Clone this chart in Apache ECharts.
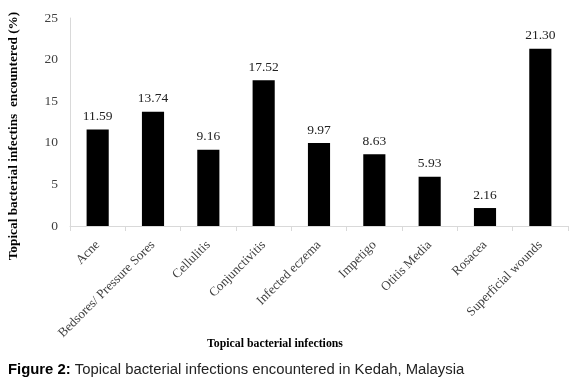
<!DOCTYPE html>
<html>
<head>
<meta charset="utf-8">
<script src="https://cdn.jsdelivr.net/npm/echarts@6/dist/echarts.min.js"></script>
<style>
html,body{margin:0;padding:0;background:#fff;}
#chart{width:583px;height:386px;}
</style>
</head>
<body>
<div id="chart"></div>
<script>
const categories = ['Acne', 'Bedsores/ Pressure Sores', 'Cellulitis', 'Conjunctivitis', 'Infected eczema', 'Impetigo', 'Otitis Media', 'Rosacea', 'Superficial wounds'];
const values = [11.59, 13.74, 9.16, 17.52, 9.97, 8.63, 5.93, 2.16, 21.30];
const yTicks = [0, 5, 10, 15, 20, 25];
const yTitle = 'Topical bacterial infectins  encountered (%)';
const xTitle = 'Topical bacterial infections';
const captionBold = 'Figure 2:';
const captionText = ' Topical bacterial infections encountered in Kedah, Malaysia';

const serif = '"Liberation Serif", "Times New Roman", serif';
const sans = '"Liberation Sans", Arial, sans-serif';

const chart = echarts.init(document.getElementById('chart'), null, {renderer: 'canvas'});
chart.setOption({
  animation: false,
  backgroundColor: '#fff',
  grid: {left: 70, right: 15, top: 18, bottom: 160, containLabel: false},
  xAxis: {
    type: 'category',
    data: categories,
    axisLine: {show: true, lineStyle: {color: '#d9d9d9', width: 1}},
    axisTick: {show: true, alignWithLabel: false, length: 5, lineStyle: {color: '#d9d9d9'}},
    axisLabel: {rotate: 45, interval: 0, fontFamily: serif, fontSize: 13, color: '#404040', margin: 17}
  },
  yAxis: {
    type: 'value',
    min: yTicks[0],
    max: yTicks[yTicks.length - 1],
    interval: 5,
    axisLine: {show: true, lineStyle: {color: '#d9d9d9', width: 1}},
    axisTick: {show: false},
    splitLine: {show: false},
    axisLabel: {fontFamily: serif, fontSize: 13.5, color: '#404040', margin: 12}
  },
  series: [{
    type: 'bar',
    data: values,
    barWidth: '40%',
    itemStyle: {color: '#000000'},
    label: {
      show: true,
      position: 'top',
      distance: 6,
      fontFamily: serif,
      fontSize: 13.5,
      color: '#222',
      formatter: p => p.value.toFixed(2)
    }
  }],
  graphic: [
    {
      type: 'text',
      x: 14, y: 136,
      rotation: Math.PI / 2,
      style: {
        text: yTitle,
        font: 'bold 13.3px ' + serif,
        fill: '#000',
        align: 'center',
        verticalAlign: 'middle'
      }
    },
    {
      type: 'text',
      x: 275, y: 344,
      style: {
        text: xTitle,
        font: 'bold 11.8px ' + serif,
        fill: '#000',
        align: 'center',
        verticalAlign: 'middle'
      }
    },
    {
      type: 'text',
      x: 8, y: 370,
      style: {
        rich: {
          b: {font: 'bold 14.85px ' + sans, fill: '#000'},
          n: {font: '14.85px ' + sans, fill: '#222'}
        },
        text: '{b|' + captionBold + '}{n|' + captionText + '}',
        verticalAlign: 'middle'
      }
    }
  ]
});
</script>
</body>
</html>
